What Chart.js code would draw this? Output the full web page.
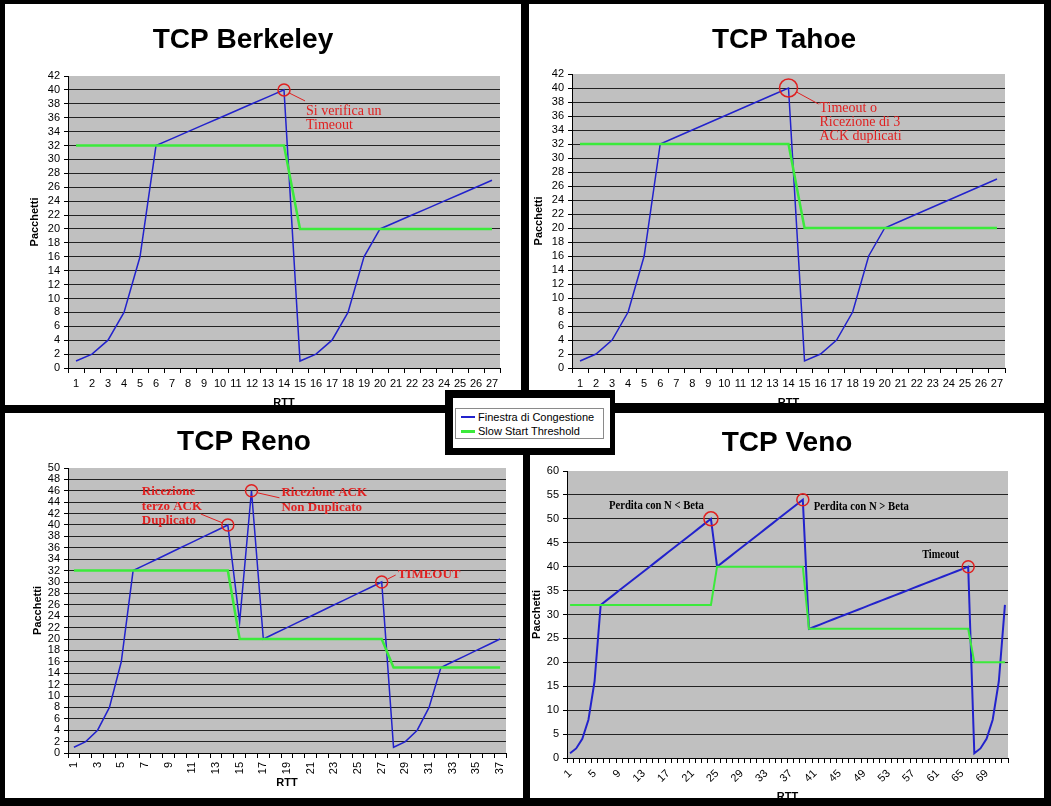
<!DOCTYPE html>
<html>
<head>
<meta charset="utf-8">
<script src="https://cdn.jsdelivr.net/npm/chart.js@4.4.1/dist/chart.umd.min.js"></script>
<style>
  html, body { margin: 0; padding: 0; background: #000; }
  #page { position: relative; width: 1051px; height: 806px; background: #000; overflow: hidden; }
  .panel { position: absolute; background: #fff; overflow: hidden; }
  .panel canvas { position: absolute; left: 0; top: 0; }
  #legendFrame { position: absolute; left: 445px; top: 390px; width: 170px; height: 65px; background: #000; }
  #legendInner { position: absolute; left: 8px; top: 8px; width: 157px; height: 50px; background: #fff; }
  #legendBox { position: absolute; left: 2px; top: 10px; width: 147px; height: 29px; border: 1px solid #8a8a8a;
    font: 11px "Liberation Sans", Arial, sans-serif; color: #000; }
  .row { position: absolute; left: 22px; height: 14px; line-height: 14px; white-space: nowrap; }
  .swatch { position: absolute; left: -17px; top: 6px; width: 14px; }
</style>
</head>
<body>
<div id="page">
  <div class="panel" id="pBerkeley"><canvas id="cBerkeley"></canvas></div>
  <div class="panel" id="pTahoe"><canvas id="cTahoe"></canvas></div>
  <div class="panel" id="pReno"><canvas id="cReno"></canvas></div>
  <div class="panel" id="pVeno"><canvas id="cVeno"></canvas></div>
  <div id="legendFrame"><div id="legendInner"><div id="legendBox">
    <div class="row" style="top:1px"><span class="swatch" style="border-top:2px solid #2222cc"></span>Finestra di Congestione</div>
    <div class="row" style="top:15px"><span class="swatch" style="border-top:3px solid #3bea3b"></span>Slow Start Threshold</div>
  </div></div></div>
</div>
<script>
// ---------------- data ----------------
const seriesNames = ["Finestra di Congestione", "Slow Start Threshold"];

const rttBerkeley = [1,2,3,4,5,6,7,8,9,10,11,12,13,14,15,16,17,18,19,20,21,22,23,24,25,26,27];
const cwndBerkeley = [1,2,4,8,16,32,33,34,35,36,37,38,39,40,1,2,4,8,16,20,21,22,23,24,25,26,27];
const ssthBerkeley = [32,32,32,32,32,32,32,32,32,32,32,32,32,32,20,20,20,20,20,20,20,20,20,20,20,20,20];

const rttTahoe = [1,2,3,4,5,6,7,8,9,10,11,12,13,14,15,16,17,18,19,20,21,22,23,24,25,26,27];
const cwndTahoe = [1,2,4,8,16,32,33,34,35,36,37,38,39,40,1,2,4,8,16,20,21,22,23,24,25,26,27];
const ssthTahoe = [32,32,32,32,32,32,32,32,32,32,32,32,32,32,20,20,20,20,20,20,20,20,20,20,20,20,20];

const rttReno = [1,2,3,4,5,6,7,8,9,10,11,12,13,14,15,16,17,18,19,20,21,22,23,24,25,26,27,28,29,30,31,32,33,34,35,36,37];
const cwndReno = [1,2,4,8,16,32,33,34,35,36,37,38,39,40,23,46,20,21,22,23,24,25,26,27,28,29,30,
  1,2,4,8,15,16,17,18,19,20];
const ssthReno = [32,32,32,32,32,32,32,32,32,32,32,32,32,32,20,20,20,20,20,20,20,20,20,20,20,20,20,
  15,15,15,15,15,15,15,15,15,15];

const rttVeno = [1,2,3,4,5,6,7,8,9,10,11,12,13,14,15,16,17,18,19,20,21,22,23,24,25,26,27,28,29,30,
  31,32,33,34,35,36,37,38,39,40,41,42,43,44,45,46,47,48,49,50,51,52,53,54,55,56,57,58,59,60,
  61,62,63,64,65,66,67,68,69,70,71,72];
const cwndVeno = [1,2,4,8,16,32,
  33,34,35,36,37,38,39,40,41,42,43,44,45,46,47,48,49,50,
  40,
  41,42,43,44,45,46,47,48,49,50,51,52,53,54,
  27,
  27.5,28,28.5,29,29.5,30,30.5,31,31.5,32,32.5,33,33.5,34,34.5,35,35.5,36,36.5,37,37.5,38,38.5,39,39.5,40,
  1,2,4,8,16,32];
const ssthVeno = [32,32,32,32,32,32,32,32,32,32,32,32,
  32,32,32,32,32,32,32,32,32,32,32,32,
  40,40,40,40,40,40,40,40,40,40,40,40,40,40,40,
  27,27,27,27,27,27,27,27,27,27,27,27,27,27,27,27,27,27,27,27,27,27,27,27,27,27,27,
  20,20,20,20,20,20];

// ---------------- layout ----------------
Chart.defaults.font.family = "'Liberation Sans', Arial, sans-serif";
Chart.defaults.color = "#000";

const RED = "#e02020";
const panels = [
  { id: "Berkeley", title: "TCP Berkeley", rtt: rttBerkeley, cwnd: cwndBerkeley, ssth: ssthBerkeley,
    yMax: 42, yStep: 2, every: 1, rot: 0,
    box: [5, 4, 516, 401], plot: [68, 76, 500, 368], titleXY: [243, 40], yTitleX: 35, xTitleY: 403,
    blueW: 1.5, greenW: 2.5,
    notes: [
      { at: 14, val: 40, r: 6, color: RED, font: "14px 'Liberation Serif'", lines: ["Si verifica un", "Timeout"],
        dx: 22, dy: 21, lh: 14, leader: [5, 3, 21, 11] }
    ] },
  { id: "Tahoe", title: "TCP Tahoe", rtt: rttTahoe, cwnd: cwndTahoe, ssth: ssthTahoe,
    yMax: 42, yStep: 2, every: 1, rot: 0,
    box: [529, 4, 515, 399], plot: [572, 74, 1005, 368], titleXY: [784, 40], yTitleX: 539, xTitleY: 403,
    blueW: 1.5, greenW: 2.5,
    notes: [
      { at: 14, val: 40, r: 9, color: RED, font: "14px 'Liberation Serif'", lines: ["Timeout o", "Ricezione di 3", "ACK duplicati"],
        dx: 31, dy: 20, lh: 14.3, leader: [8, 4, 30, 16] }
    ] },
  { id: "Reno", title: "TCP Reno", rtt: rttReno, cwnd: cwndReno, ssth: ssthReno,
    yMax: 50, yStep: 2, every: 2, rot: 90,
    box: [5, 413, 518, 385], plot: [68, 468, 506, 753], titleXY: [244, 442], yTitleX: 38, xTitleY: 783,
    blueW: 1.5, greenW: 2.5,
    notes: [
      { at: 14, val: 40, r: 6, color: RED, font: "bold 13px 'Liberation Serif'", lines: ["Ricezione", "terzo ACK", "Duplicato"],
        dx: -86, dy: -33, lh: 14.5, leader: [-5, -2, -27, -11] },
      { at: 16, val: 46, r: 6, color: RED, font: "bold 13px 'Liberation Serif'", lines: ["Ricezione ACK", "Non Duplicato"],
        dx: 30, dy: 2, lh: 15, leader: [6, 2, 28, 7] },
      { at: 27, val: 30, r: 6, color: RED, font: "bold 13px 'Liberation Serif'", lines: ["TIMEOUT"],
        dx: 16, dy: -7, lh: 14, leader: [6, -3, 14, -7] }
    ] },
  { id: "Veno", title: "TCP Veno", rtt: rttVeno, cwnd: cwndVeno, ssth: ssthVeno,
    yMax: 60, yStep: 5, every: 4, rot: 45,
    box: [530, 413, 514, 385], plot: [567, 471, 1008, 758], titleXY: [787, 443], yTitleX: 537, xTitleY: 797,
    blueW: 2, greenW: 2,
    notes: [
      { at: 24, val: 50, r: 7, color: "#000", font: "bold 12px 'Liberation Serif'", lines: ["Perdita con N < Beta"],
        dx: -102, dy: -13, lh: 14, maxW: 95 },
      { at: 39, val: 54, r: 6, color: "#000", font: "bold 12px 'Liberation Serif'", lines: ["Perdita con N > Beta"],
        dx: 11, dy: 7, lh: 14, maxW: 95 },
      { at: 66, val: 40, r: 6, color: "#000", font: "bold 12px 'Liberation Serif'", lines: ["Timeout"],
        dx: -46, dy: -12, lh: 14, maxW: 37 }
    ] }
];

// grey plot background, big title, red circles and notes
const decor = {
  id: "decor",
  beforeDraw(chart) {
    const { ctx, chartArea: a } = chart;
    ctx.save();
    ctx.fillStyle = "#c0c0c0";
    ctx.fillRect(a.left, a.top, a.width, a.height);
    ctx.restore();
  },
  afterDraw(chart, args, opts) {
    const ctx = chart.ctx;
    const xs = chart.scales.x, ys = chart.scales.y;
    ctx.save();
    ctx.font = "bold 28px 'Liberation Sans', Arial, sans-serif";
    ctx.fillStyle = "#000";
    ctx.textAlign = "center";
    ctx.textBaseline = "middle";
    ctx.fillText(opts.title, opts.tx, opts.ty);

    opts.notes.forEach(n => {
      const cx = xs.getPixelForValue(opts.rtt.indexOf(n.at));
      const cy = ys.getPixelForValue(n.val);
      ctx.strokeStyle = RED;
      ctx.lineWidth = 1.5;
      ctx.beginPath();
      ctx.arc(cx, cy, n.r, 0, Math.PI * 2);
      ctx.stroke();
      if (n.leader) {
        ctx.lineWidth = 1;
        ctx.beginPath();
        ctx.moveTo(cx + n.leader[0], cy + n.leader[1]);
        ctx.lineTo(cx + n.leader[2], cy + n.leader[3]);
        ctx.stroke();
      }
      ctx.fillStyle = n.color;
      ctx.font = n.font;
      ctx.textAlign = "left";
      ctx.textBaseline = "middle";
      n.lines.forEach((t, k) => {
        if (n.maxW) ctx.fillText(t, cx + n.dx, cy + n.dy + k * n.lh, n.maxW);
        else ctx.fillText(t, cx + n.dx, cy + n.dy + k * n.lh);
      });
    });
    ctx.restore();
  }
};

function makeChart(p) {
  const [bx, by, bw, bh] = p.box;
  const div = document.getElementById("p" + p.id);
  div.style.left = bx + "px";
  div.style.top = by + "px";
  div.style.width = bw + "px";
  div.style.height = bh + "px";

  const LH = 13.2, TP = 4;
  const padLeft = p.yTitleX - bx - (LH / 2 + TP);
  const yW = p.plot[0] - bx - padLeft;
  const padTop = p.plot[1] - by;
  const padRight = bx + bw - p.plot[2];
  const xBottom = p.xTitleY + LH / 2 + TP - by;
  const xH = xBottom - (p.plot[3] - by);

  const canvas = document.getElementById("c" + p.id);
  canvas.width = bw;
  canvas.height = Math.ceil(xBottom);
  canvas.style.width = bw + "px";
  canvas.style.height = Math.ceil(xBottom) + "px";
  const padBottom = canvas.height - xBottom;

  new Chart(canvas.getContext("2d"), {
    type: "line",
    data: {
      labels: p.rtt,
      datasets: [
        { label: seriesNames[1], data: p.ssth, borderColor: "#3bea3b", borderWidth: p.greenW,
          pointRadius: 0, tension: 0, fill: false },
        { label: seriesNames[0], data: p.cwnd, borderColor: "#2222cc", borderWidth: p.blueW,
          pointRadius: 0, tension: 0, fill: false }
      ]
    },
    options: {
      responsive: false,
      animation: false,
      devicePixelRatio: 1,
      layout: { padding: { left: padLeft, top: padTop, right: padRight, bottom: padBottom } },
      plugins: {
        legend: { display: false },
        tooltip: { enabled: false },
        decor: { title: p.title, tx: p.titleXY[0] - bx, ty: p.titleXY[1] - by, notes: p.notes, rtt: p.rtt }
      },
      scales: {
        x: {
          offset: true,
          grid: { drawOnChartArea: false, offset: true, tickLength: 5, color: "#000" },
          border: { color: "#000" },
          ticks: {
            autoSkip: false, minRotation: p.rot, maxRotation: p.rot, padding: 4,
            font: { size: 11 },
            callback: function (v, i) { return i % p.every === 0 ? this.getLabelForValue(v) : ""; }
          },
          title: { display: true, text: "RTT", font: { size: 11, weight: "bold" }, padding: { top: 4, bottom: 4 } },
          afterFit(s) { s.height = xH; }
        },
        y: {
          min: 0, max: p.yMax,
          grid: {
            color: c => (c.tick && c.tick.value === p.yMax) ? "rgba(0,0,0,0)" : "#222",
            tickColor: "#000", tickLength: 4
          },
          border: { color: "#000" },
          ticks: { stepSize: p.yStep, autoSkip: false, padding: 4, font: { size: 11 } },
          title: { display: true, text: "Pacchetti", font: { size: 11, weight: "bold" }, padding: { top: 4, bottom: 4 } },
          afterFit(s) { s.width = yW; }
        }
      }
    },
    plugins: [decor]
  });
}

panels.forEach(makeChart);
</script>
</body>
</html>
